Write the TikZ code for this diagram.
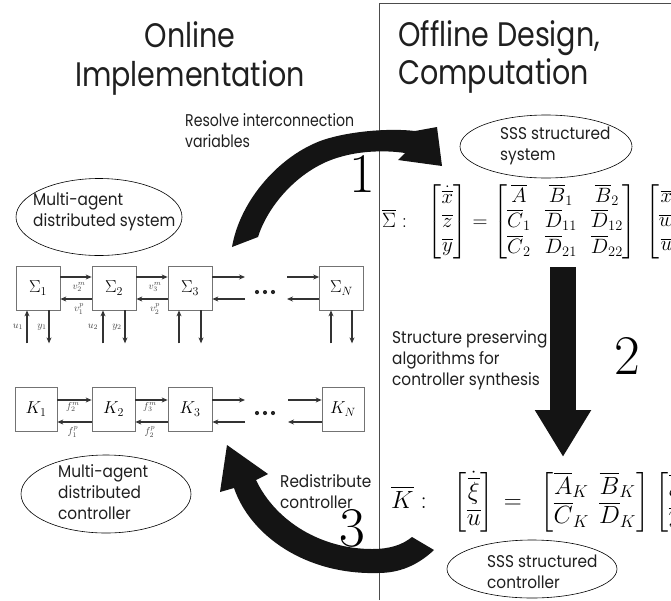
\documentclass[tikz,border=0pt]{standalone}
\usepackage{amsmath}
\usepackage{fontspec}
\newfontfamily\pop{Poppins}[FakeStretch=0.9]
\newfontfamily\popn{Poppins}[FakeStretch=0.83]
\newfontfamily\popt{Poppins}[FakeStretch=0.84]
\usetikzlibrary{arrows.meta,shapes.geometric}
\begin{document}
\begin{tikzpicture}[x=1pt,y=-1pt,
  sysbox/.style={draw=black!55, line width=0.7pt, minimum width=44pt, minimum height=44pt, inner sep=0pt, font=\fontsize{17}{17}\selectfont},
  conn/.style={draw=black!80, line width=1.5pt, -{Stealth[length=6pt,width=5pt]}},
  lbl/.style={font=\fontsize{10}{10}\selectfont, text=black!75, inner sep=0pt},
  oval/.style={draw=black, ellipse, line width=0.6pt, inner sep=0pt},
  txt/.style={font=\pop\fontsize{17}{21}\selectfont, text=black!88, align=left, inner sep=0pt, anchor=west},
  bignum/.style={font=\fontsize{56}{56}\selectfont, inner sep=0pt},
  title/.style={font=\popt\fontsize{34}{40}\selectfont, text=black!88, inner sep=0pt},
  bigarrow/.style={fill=black!92, draw=none},
  eqn/.style={inner sep=0pt, anchor=west}]
\useasboundingbox (0,0) rectangle (671,600);
\clip (0,0) rectangle (671,600);

% frame lines
\coordinate (ftop) at (379,3);
\coordinate (fbot) at (379,600);
\coordinate (fright) at (671,3);
\draw[black!70, line width=0.8pt] (fbot) -- (ftop) -- (fright);

% titles
\node[title, anchor=base] (on) at (190,47) {Online};
\node[title, anchor=base] (impl) at (190,86) {Implementation};
\node[title, anchor=base west] (off) at (398,46) {Offline Design,};
\node[title, anchor=base west] (comp) at (398,84) {Computation};

% ellipses and texts
\node[oval, minimum width=166pt, minimum height=77pt] (e1) at (99,217) {};
\node[txt] (t1) at (33,212) {Multi-agent\\distributed system};
\node[oval, minimum width=170pt, minimum height=78pt] (e2) at (106,494) {};
\node[txt] (t2) at (58,492) {Multi-agent\\distributed\\controller};
\node[oval, minimum width=172pt, minimum height=63pt] (e3) at (546,146.5) {};
\node[txt] (t3) at (500,146) {SSS structured\\system};
\node[oval, minimum width=170pt, minimum height=58pt] (e4) at (532,569) {};
\node[txt] (t4) at (487,572) {SSS structured\\controller};

\node[txt, font=\popn\fontsize{17}{21}\selectfont] (t5) at (185,131) {Resolve interconnection\\variables};
\node[txt] (t6) at (392,360) {Structure preserving\\algorithms for\\controller synthesis};
\node[txt] (t7) at (280,492) {Redistribute\\controller};

% big numbers
\node[bignum] (n1) at (362,174) {1};
\node[bignum] (n2) at (627,356) {2};
\node[bignum] (n3) at (352,528) {3};

% system chain
\node[sysbox] (s1) at (38,288) {$\Sigma_1$};
\node[sysbox] (s2) at (114,288) {$\Sigma_2$};
\node[sysbox] (s3) at (190,288) {$\Sigma_3$};
\node[sysbox] (sN) at (341.5,288) {$\Sigma_N$};
\coordinate (sa) at (245,277);
\coordinate (sb) at (245,299);
\coordinate (sc) at (287,277);
\coordinate (sd) at (287,299);
\draw[conn] ([yshift=11pt]s1.east) -- ([yshift=11pt]s2.west);
\draw[conn] ([yshift=-11pt]s2.west) -- ([yshift=-11pt]s1.east);
\draw[conn] ([yshift=11pt]s2.east) -- ([yshift=11pt]s3.west);
\draw[conn] ([yshift=-11pt]s3.west) -- ([yshift=-11pt]s2.east);
\draw[conn] ([yshift=11pt]s3.east) -- (sa);
\draw[conn] (sb) -- ([yshift=-11pt]s3.east);
\draw[conn] (sc) -- ([yshift=11pt]sN.west);
\draw[conn] ([yshift=-11pt]sN.west) -- (sd);
\fill[black!85] (257,292) circle (2.1) (265,292) circle (2.1) (273,292) circle (2.1);
\node[lbl] (v2m) at (79,287) {$v_2^m$};
\node[lbl] (v1p) at (79,309) {$v_1^p$};
\node[lbl] (v3m) at (155,287) {$v_3^m$};
\node[lbl] (v2p) at (155,309) {$v_2^p$};
\foreach \n in {s1,s2,s3}{
  \draw[conn] ([xshift=-11pt,yshift=-33pt]\n.south) -- ([xshift=-11pt]\n.south);
  \draw[conn] ([xshift=11pt]\n.south) -- ([xshift=11pt,yshift=-33pt]\n.south);
}
\draw[conn] ([xshift=-10.5pt,yshift=-33pt]sN.south) -- ([xshift=-10.5pt]sN.south);
\draw[conn] ([xshift=10.5pt]sN.south) -- ([xshift=10.5pt,yshift=-33pt]sN.south);
\node[lbl] (u1) at (18,327) {$u_1$};
\node[lbl] (y1) at (42,327) {$y_1$};
\node[lbl] (u2) at (93,327) {$u_2$};
\node[lbl] (y2) at (117,327) {$y_2$};

% controller chain
\node[sysbox, minimum width=42pt] (k1) at (36,409) {$K_1$};
\node[sysbox, minimum width=43pt] (k2) at (113.5,409) {$K_2$};
\node[sysbox] (k3) at (190,409) {$K_3$};
\node[sysbox, minimum width=42pt] (kN) at (343,409) {$K_N$};
\coordinate (ka) at (245,400);
\coordinate (kb) at (245,422);
\coordinate (kc) at (288,400);
\coordinate (kd) at (288,422);
\draw[conn] ([yshift=9pt]k1.east) -- ([yshift=9pt]k2.west);
\draw[conn] ([yshift=-13pt]k2.west) -- ([yshift=-13pt]k1.east);
\draw[conn] ([yshift=9pt]k2.east) -- ([yshift=9pt]k3.west);
\draw[conn] ([yshift=-13pt]k3.west) -- ([yshift=-13pt]k2.east);
\draw[conn] ([yshift=9pt]k3.east) -- (ka);
\draw[conn] (kb) -- ([yshift=-13pt]k3.east);
\draw[conn] (kc) -- ([yshift=9pt]kN.west);
\draw[conn] ([yshift=-13pt]kN.west) -- (kd);
\fill[black!85] (257,413) circle (2.1) (265,413) circle (2.1) (273,413) circle (2.1);
\node[lbl] (f2m) at (73,407) {$f_2^m$};
\node[lbl] (f1p) at (73,432) {$f_1^p$};
\node[lbl] (f3m) at (150,407) {$f_3^m$};
\node[lbl] (f2p) at (150,432) {$f_2^p$};

% equations
\node[eqn, font=\fontsize{20}{24}\selectfont] (sigeq) at (382,222) {\setlength{\arraycolsep}{7pt}$\overline{\Sigma}:\hspace{15pt}
  \begin{bmatrix}\dot{\overline{x}}\\ \overline{z}\\ \overline{y}\end{bmatrix}
  = \begin{bmatrix}\overline{A} & \overline{B}_1 & \overline{B}_2\\
                   \overline{C}_1 & \overline{D}_{11} & \overline{D}_{12}\\
                   \overline{C}_2 & \overline{D}_{21} & \overline{D}_{22}\end{bmatrix}
  \hspace{5pt}\begin{bmatrix}\overline{x}\\ \overline{w}\\ \overline{u}\end{bmatrix}$};
\node[eqn, font=\fontsize{24}{26}\selectfont] (keq) at (391,502) {\renewcommand{\arraystretch}{1.0}\setlength{\arraycolsep}{5pt}$\overline{K}:\hspace{20pt}
  \begin{bmatrix}\dot{\overline{\xi}}\\ \overline{u}\end{bmatrix}
  \hspace{3pt}=\hspace{12pt}\begin{bmatrix}\overline{A}_K & \overline{B}_K\\
                   \overline{C}_K & \overline{D}_K\end{bmatrix}
  \hspace{2pt}\begin{bmatrix}\overline{\xi}\\ \overline{y}\end{bmatrix}$};

% big arrows
\fill[bigarrow] (232,247) .. controls (240,200) and (280,155) .. (323,140)
  .. controls (350,131) and (390,128) .. (415,131) -- (437,127) -- (442,166)
  -- (398,160) -- (405,153) .. controls (385,150) and (360,151) .. (340,157)
  .. controls (300,168) and (268,205) .. (258,237) -- cycle;

\coordinate (a2s) at (563,267);
\coordinate (a2e) at (563,457);
\draw[black!92, line width=26pt, -{Triangle[length=47pt,width=53pt]}] (a2s) -- (a2e);

\fill[bigarrow] (227,445) -- (268,474) -- (256,480)
  .. controls (276,522) and (322,549) .. (372,549)
  .. controls (390,549) and (402,545) .. (412,537) -- (434,550)
  .. controls (418,565) and (400,573) .. (378,573)
  .. controls (305,575) and (250,535) .. (234,488) -- (220,492) -- cycle;
\end{tikzpicture}
\end{document}
